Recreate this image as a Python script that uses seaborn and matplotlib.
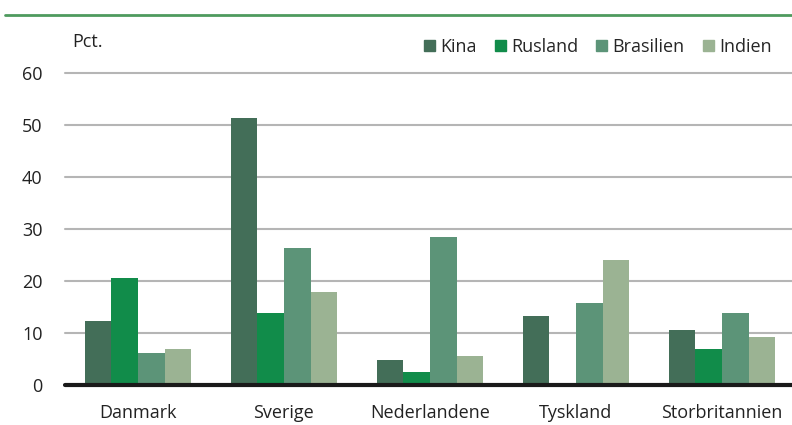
import pandas as pd
import matplotlib
matplotlib.use("Agg")
import matplotlib.pyplot as plt
import seaborn as sns
from matplotlib.lines import Line2D

# Data (pct.)
lande = ["Danmark", "Sverige", "Nederlandene", "Tyskland", "Storbritannien"]
serier = ["Kina", "Rusland", "Brasilien", "Indien"]
kina = [12.3, 51.3, 4.9, 13.2, 10.6]
rusland = [20.6, 13.8, 2.6, 0.0, 7.0]
brasilien = [6.2, 26.3, 28.5, 15.7, 13.8]
indien = [6.9, 17.9, 5.6, 24.1, 9.3]
farver = ["#436E58", "#118C4A", "#5C9478", "#9BB393"]

rows = []
for serie, vals in zip(serier, [kina, rusland, brasilien, indien]):
    for land, v in zip(lande, vals):
        rows.append({"land": land, "serie": serie, "pct": v})
df = pd.DataFrame(rows)

sns.set_style("white")
plt.rcParams["font.family"] = ["Open Sans", "DejaVu Sans"]

fig = plt.figure(figsize=(7.92, 4.25), dpi=100)
ax = fig.add_axes([0.082, 0.094, 0.918, 0.734])

sns.barplot(data=df, x="land", y="pct", hue="serie", order=lande, hue_order=serier,
            palette=farver, saturation=1, width=0.73, linewidth=0, ax=ax, legend=False)

ax.set_ylim(0, 60)
ax.set_xlim(-0.5, 4.48)
ax.set_yticks(range(0, 61, 10))
for y in range(10, 61, 10):
    ax.axhline(y, color="#B5B5B5", lw=1.5, zorder=0, clip_on=False)
ax.axhline(0, color="#1a1a1a", lw=3, zorder=5, clip_on=False)
for s in ax.spines.values():
    s.set_visible(False)
ax.set_xlabel("")
ax.set_ylabel("")
ax.tick_params(axis="both", length=0, labelsize=13, colors="#222222")
ax.tick_params(axis="y", pad=16)
ax.tick_params(axis="x", pad=14)

fig.text(72 / 792, 1 - 42 / 425, "Pct.", fontsize=13, color="#222222", va="center")

handles = [plt.Rectangle((0, 0), 1, 1, color=c) for c in farver]
fig.legend(handles, serier, ncol=4, loc="center right", bbox_to_anchor=(0.995, 1 - 47 / 425),
           frameon=False, fontsize=13, handlelength=0.6, handleheight=0.6,
           handletextpad=0.3, columnspacing=1.0)

fig.add_artist(Line2D([5 / 792, 1.0], [1 - 15 / 425] * 2, color="#4E9A5E", lw=2))

fig.savefig("out.png", dpi=100)
